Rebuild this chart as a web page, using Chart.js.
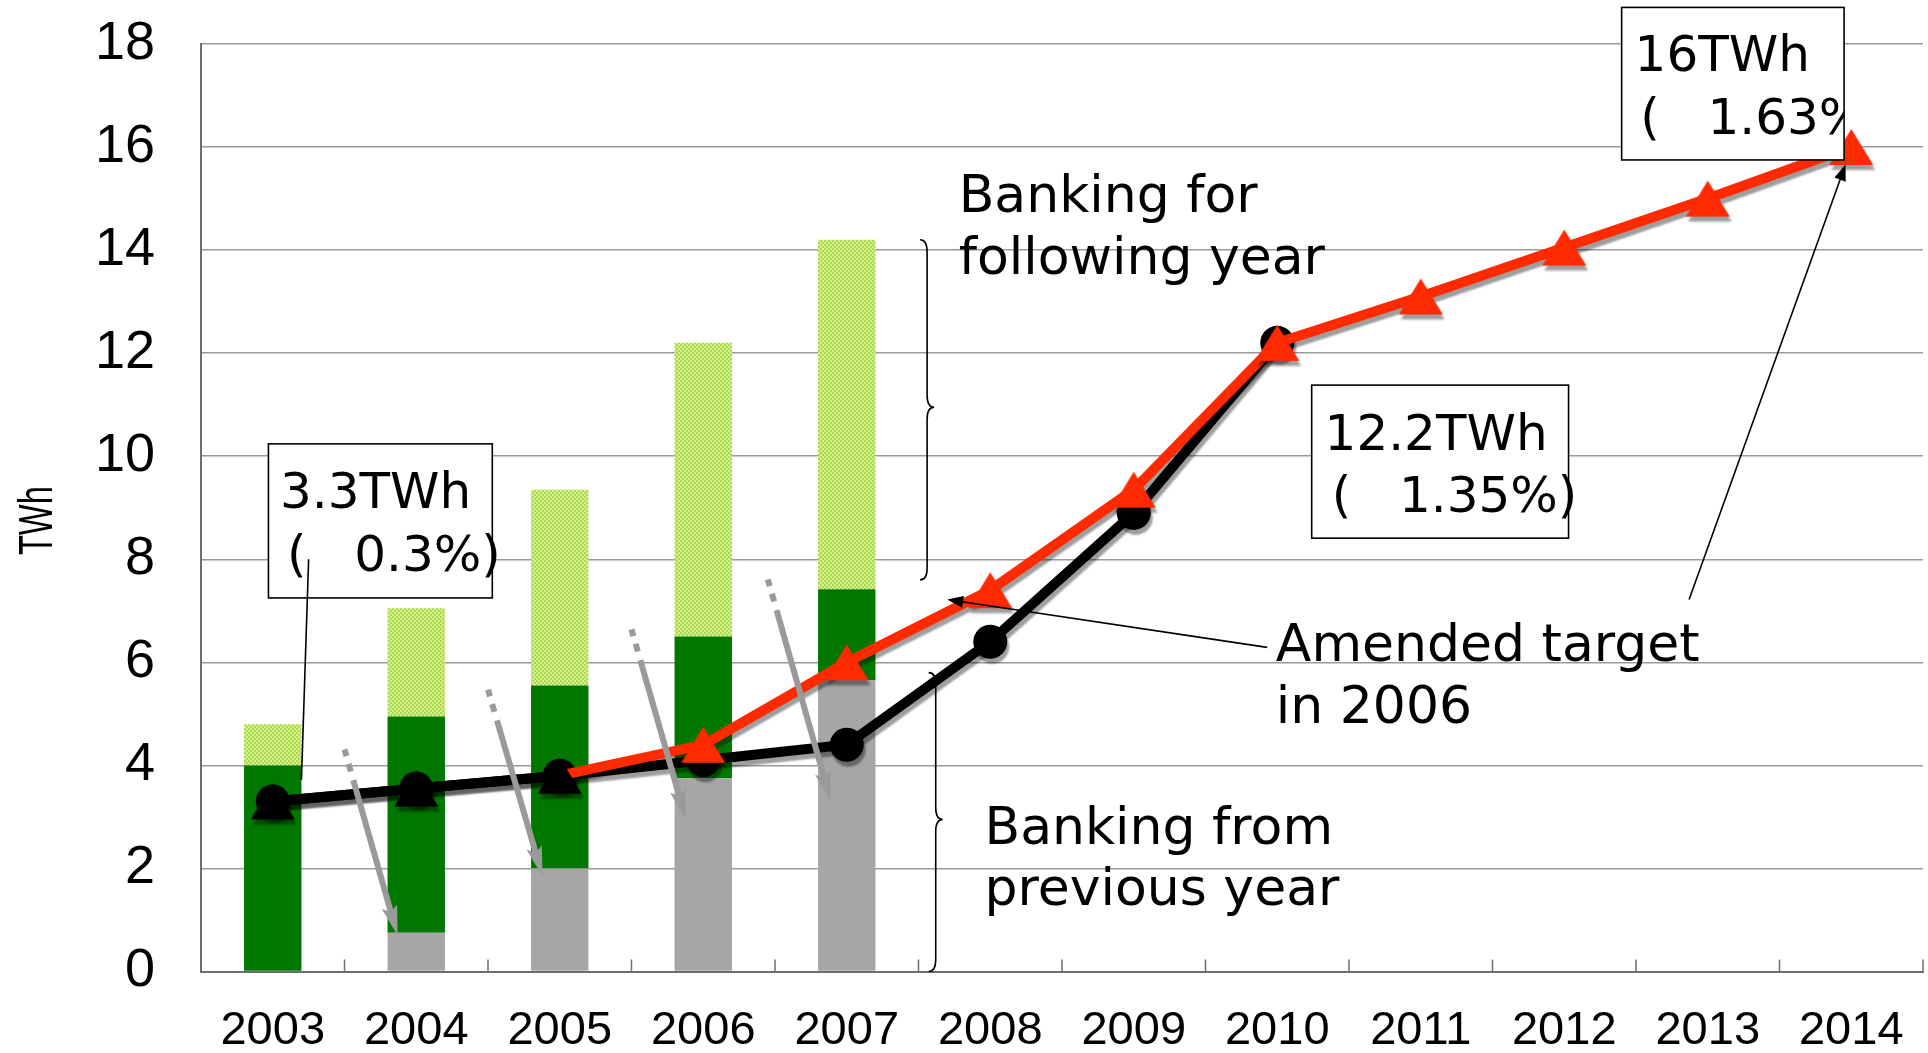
<!DOCTYPE html>
<html>
<head>
<meta charset="utf-8">
<script src="https://cdn.jsdelivr.net/npm/chart.js@4.4.1/dist/chart.umd.min.js"></script>
<style>
  html, body { margin: 0; padding: 0; background: #fff; overflow: hidden; }
</style>
</head>
<body>
<canvas id="chart" width="1928" height="1053"></canvas>
<script>
// values (TWh)
const years          = ['2003', '2004', '2005', '2006', '2007', '2008', '2009', '2010', '2011', '2012', '2013', '2014'];
const bankedFromPrev = [0,    0.75, 2.0,  3.75, 5.65, null, null, null, null, null, null, null];
const currentYear    = [4.0,  4.2,  3.55, 2.75, 1.77, null, null, null, null, null, null, null];
const bankedForNext  = [0.8,  2.1,  3.8,  5.7,  6.78, null, null, null, null, null, null, null];
const actual         = [3.3,  3.55, 3.8,  4.1,  4.4,  6.4,  8.9,  12.2, null, null, null, null];
const target         = [3.3,  3.55, 3.8,  4.4,  6.0,  7.4,  9.35, 12.2, 13.1, 14.05, 15.0, 16.0];
const yTicks         = [0, 2, 4, 6, 8, 10, 12, 14, 16, 18];

const RED   = '#ff2a00';
const GRAY  = '#a6a6a6';
const GREEN = '#007800';
const TICK_FONT = '"Liberation Sans", Arial, sans-serif';
const NOTE_FONT = '"DejaVu Sans", sans-serif';

const canvas = document.getElementById('chart');
const mainCtx = canvas.getContext('2d');

function triangleMarker(color) {
  const c = document.createElement('canvas');
  c.width = 46; c.height = 38;
  const g = c.getContext('2d');
  g.fillStyle = color;
  g.beginPath();
  g.moveTo(23, 1); g.lineTo(45, 37); g.lineTo(1, 37);
  g.closePath(); g.fill();
  return c;
}

function dotPattern() {
  const c = document.createElement('canvas');
  c.width = 4; c.height = 4;
  const g = c.getContext('2d');
  g.fillStyle = '#d8f290'; g.fillRect(0, 0, 4, 4);
  g.fillStyle = '#aad84c'; g.fillRect(0, 0, 2, 2); g.fillRect(2, 2, 2, 2);
  return mainCtx.createPattern(c, 'repeat');
}

const triRed = triangleMarker(RED);
const triBlack = triangleMarker('#000');

// drop shadow under the two lines, like the office chart
const lineShadow = {
  id: 'lineShadow',
  beforeDatasetDraw(chart, args) {
    if (chart.data.datasets[args.index].type !== 'line') return;
    const c = chart.ctx;
    c.save();
    c.shadowColor = 'rgba(0,0,0,0.38)';
    c.shadowOffsetX = 2;
    c.shadowOffsetY = 5;
    c.shadowBlur = 2;
  },
  afterDatasetDraw(chart, args) {
    if (chart.data.datasets[args.index].type !== 'line') return;
    chart.ctx.restore();
  }
};

const notes = {
  id: 'notes',
  afterDatasetsDraw(chart) {
    const { ctx, scales: { x, y } } = chart;
    const step = x.getPixelForValue(1) - x.getPixelForValue(0);
    const X = i => x.getPixelForValue(0) + i * step;
    const Y = v => y.getPixelForValue(v);

    // category tick marks on the x axis (inside)
    ctx.save();
    ctx.strokeStyle = '#6e6e6e';
    ctx.lineWidth = 1.5;
    for (let k = 1; k <= years.length; k++) {
      const bx = X(k - 0.5);
      ctx.beginPath();
      ctx.moveTo(bx, Y(0));
      ctx.lineTo(bx, Y(0) - 12);
      ctx.stroke();
    }
    ctx.restore();

    // gray carry-over arrows
    const grayArrow = (i0, v0, i1, v1) => {
      const x0 = X(i0), y0 = Y(v0), x1 = X(i1), y1 = Y(v1);
      const dx = x1 - x0, dy = y1 - y0, len = Math.hypot(dx, dy);
      const ux = dx / len, uy = dy / len;
      const seg = (a, b) => {
        ctx.beginPath();
        ctx.moveTo(x0 + ux * a, y0 + uy * a);
        ctx.lineTo(x0 + ux * b, y0 + uy * b);
        ctx.stroke();
      };
      ctx.save();
      ctx.strokeStyle = '#9a9a9a';
      ctx.fillStyle = '#9a9a9a';
      ctx.lineWidth = 6;
      seg(0, 7);
      seg(15, 23);
      seg(32, len - 24);
      const hl = 30, hw = 8;
      const bx = x1 - ux * hl, by = y1 - uy * hl;
      ctx.beginPath();
      ctx.moveTo(x1, y1);
      ctx.lineTo(bx - uy * hw, by + ux * hw);
      ctx.lineTo(x1 - ux * (hl - 6), y1 - uy * (hl - 6));
      ctx.lineTo(bx + uy * hw, by - ux * hw);
      ctx.closePath();
      ctx.fill();
      ctx.restore();
    };
    grayArrow(0.50, 4.31, 0.87, 0.70);
    grayArrow(1.50, 5.47, 1.88, 1.85);
    grayArrow(2.50, 6.64, 2.88, 2.95);
    grayArrow(3.45, 7.61, 3.89, 3.30);

    ctx.save();
    ctx.strokeStyle = '#000';
    ctx.fillStyle = '#000';
    ctx.lineWidth = 1.6;

    // braces
    const brace = (i, vTop, vBot, vMid) => {
      const xp = X(i), yt = Y(vTop), yb = Y(vBot), ym = Y(vMid), w = 7, k = 12;
      ctx.beginPath();
      ctx.moveTo(xp - w, yt);
      ctx.quadraticCurveTo(xp, yt, xp, yt + k);
      ctx.lineTo(xp, ym - k);
      ctx.quadraticCurveTo(xp, ym, xp + w, ym);
      ctx.quadraticCurveTo(xp, ym, xp, ym + k);
      ctx.lineTo(xp, yb - k);
      ctx.quadraticCurveTo(xp, yb, xp - w, yb);
      ctx.stroke();
    };
    brace(4.56, 14.2, 7.6, 10.95);
    brace(4.62, 5.8, 0, 2.95);

    // thin pointer arrows
    const pointer = (i0, v0, i1, v1) => {
      const x0 = X(i0), y0 = Y(v0), x1 = X(i1), y1 = Y(v1);
      const dx = x1 - x0, dy = y1 - y0, len = Math.hypot(dx, dy);
      const ux = dx / len, uy = dy / len;
      ctx.beginPath();
      ctx.moveTo(x0, y0);
      ctx.lineTo(x1 - ux * 10, y1 - uy * 10);
      ctx.stroke();
      const hl = 16, hw = 6;
      const bx = x1 - ux * hl, by = y1 - uy * hl;
      ctx.beginPath();
      ctx.moveTo(x1, y1);
      ctx.lineTo(bx - uy * hw, by + ux * hw);
      ctx.lineTo(bx + uy * hw, by - ux * hw);
      ctx.closePath();
      ctx.fill();
    };
    pointer(6.93, 6.29, 4.70, 7.22);
    pointer(9.87, 7.22, 10.96, 15.66);

    ctx.textAlign = 'left';
    ctx.textBaseline = 'alphabetic';
    let size = 52;
    const text = (t, i, v) => ctx.fillText(t, X(i), Y(v) + 0.365 * size);

    // free text
    ctx.font = `${size}px ${NOTE_FONT}`;
    text('Banking for', 4.78, 15.1);
    text('following year', 4.78, 13.9);
    text('Banking from', 4.96, 2.85);
    text('previous year', 4.96, 1.65);
    text('Amended target', 6.99, 6.39);
    text('in 2006', 6.99, 5.19);

    // boxed labels
    size = 50;
    ctx.font = `${size}px ${NOTE_FONT}`;
    const box = (i0, v0, i1, v1) => {
      const bx = X(i0), by = Y(v0), bw = X(i1) - bx, bh = Y(v1) - by;
      ctx.fillStyle = '#fff';
      ctx.fillRect(bx, by, bw, bh);
      ctx.strokeRect(bx, by, bw, bh);
      ctx.fillStyle = '#000';
    };
    box(-0.03, 10.24, 1.53, 7.25);
    text('3.3TWh', 0.05, 9.34);
    text('(   0.3%)', 0.10, 8.12);
    ctx.beginPath();
    ctx.moveTo(X(0.25), Y(8.0));
    ctx.lineTo(X(0.20), Y(3.72));
    ctx.stroke();

    box(7.24, 11.38, 9.03, 8.41);
    text('12.2TWh', 7.33, 10.48);
    text('(   1.35%)', 7.38, 9.27);

    box(9.40, 18.71, 10.95, 15.75);
    ctx.save();
    ctx.beginPath();
    ctx.rect(X(9.40), Y(18.71), X(10.95) - X(9.40), Y(15.75) - Y(18.71));
    ctx.clip();
    text('16TWh', 9.49, 17.83);
    text('(   1.63%)', 9.53, 16.61);
    ctx.restore();

    // y axis title, condensed
    ctx.save();
    ctx.translate(39, Y(8.75));
    ctx.rotate(-Math.PI / 2);
    ctx.scale(0.68, 1);
    ctx.font = `48px ${TICK_FONT}`;
    ctx.textAlign = 'center';
    ctx.textBaseline = 'middle';
    ctx.fillText('TWh', 0, 0);
    ctx.restore();

    ctx.restore();
  }
};

new Chart(canvas, {
  type: 'bar',
  data: {
    labels: years,
    datasets: [
      {
        type: 'line',
        label: 'Amended target in 2006',
        data: target,
        stack: 'target',
        order: 1,
        borderColor: RED,
        borderWidth: 10,
        segment: { borderColor: c => (c.p1DataIndex <= 2 ? '#000' : RED) },
        pointStyle: target.map((_, k) => (k <= 2 ? triBlack : triRed)),
        pointRadius: 20,
        tension: 0,
        clip: false
      },
      {
        type: 'line',
        label: 'Actual',
        data: actual,
        stack: 'actual',
        order: 2,
        borderColor: '#000',
        borderWidth: 10,
        pointStyle: 'circle',
        pointRadius: 17,
        pointBackgroundColor: '#000',
        pointBorderWidth: 0,
        tension: 0,
        clip: false
      },
      { label: 'Banking from previous year', data: bankedFromPrev, backgroundColor: GRAY, stack: 'bank', order: 3 },
      { label: 'Current year', data: currentYear, backgroundColor: GREEN, stack: 'bank', order: 3 },
      { label: 'Banking for following year', data: bankedForNext, backgroundColor: dotPattern(), stack: 'bank', order: 3 }
    ]
  },
  options: {
    responsive: false,
    animation: false,
    devicePixelRatio: 1,
    layout: { autoPadding: false, padding: { top: 44, right: 5, left: 0, bottom: 0 } },
    datasets: { bar: { barPercentage: 0.4, categoryPercentage: 1, borderWidth: 0 } },
    plugins: { legend: { display: false }, tooltip: { enabled: false } },
    scales: {
      x: {
        stacked: true,
        offset: true,
        grid: { display: false, drawTicks: false },
        border: { display: true, color: '#6e6e6e', width: 2 },
        ticks: { color: '#000', font: { family: TICK_FONT, size: 47, lineHeight: 2.55 }, padding: 0, maxRotation: 0, autoSkip: false },
        afterFit(s) { s.height = 81.5; s.paddingLeft = 0; s.paddingRight = 0; }
      },
      y: {
        stacked: true,
        min: 0,
        max: 18,
        afterBuildTicks(s) { s.ticks = yTicks.map(v => ({ value: v })); },
        ticks: { color: '#000', font: { family: TICK_FONT, size: 54 }, padding: 46 },
        grid: { color: '#9a9a9a', lineWidth: 1.5, drawTicks: false },
        border: { color: '#6e6e6e', width: 2 },
        afterFit(s) { s.width = 201; s.paddingTop = 0; s.paddingBottom = 0; }
      }
    }
  },
  plugins: [lineShadow, notes]
});
</script>
</body>
</html>
